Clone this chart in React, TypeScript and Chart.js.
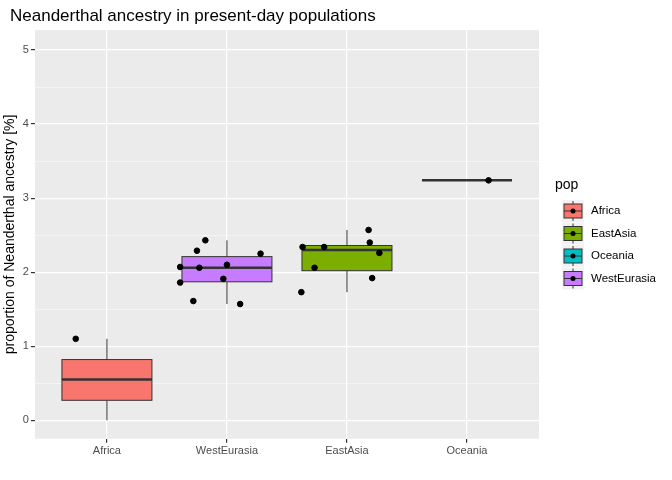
import React, { useEffect, useRef } from "react";
import { Chart, registerables } from "chart.js";
Chart.register(...registerables);

const categories = ["Africa", "WestEurasia", "EastAsia", "Oceania"];
const legendOrder = ["Africa", "EastAsia", "Oceania", "WestEurasia"];
const colors: Record<string, string> = { Africa: "#F8766D", EastAsia: "#7CAE00", Oceania: "#00BFC4", WestEurasia: "#C77CFF" };
// [whiskerLow, q1, median, q3, whiskerHigh]
const boxStats = [
  [0.0, 0.27, 0.55, 0.82, 1.1],
  [1.57, 1.87, 2.06, 2.21, 2.43],
  [1.73, 2.02, 2.3, 2.36, 2.57],
  [3.24, 3.24, 3.24, 3.24, 3.24],
];
const pointCat = [0, 1, 1, 1, 1, 1, 1, 1, 1, 1, 1, 2, 2, 2, 2, 2, 2, 2, 2, 3];
const pointJitter = [-0.26, -0.39, -0.39, -0.28, -0.25, -0.18, -0.23, 0, -0.03, 0.11, 0.28, -0.37, -0.38, -0.27, -0.19, 0.18, 0.19, 0.21, 0.27, 0.18];
const pointValues = [1.1, 2.07, 1.86, 1.61, 2.29, 2.43, 2.06, 2.1, 1.91, 1.57, 2.25, 2.34, 1.73, 2.06, 2.34, 2.57, 2.4, 1.92, 2.26, 3.24];

export default function App() {
  const ref = useRef<HTMLCanvasElement>(null);
  useEffect(() => {
    document.body.style.margin = "0";
    const boxPlugin = {
      id: "box",
      beforeDatasetsDraw(chart: any) {
        const { ctx, scales } = chart;
        const xs = scales.x, ys = scales.y;
        boxStats.forEach((s, i) => {
          const cx = xs.getPixelForValue(i + 1);
          const hw = xs.getPixelForValue(i + 1.375) - cx;
          const [lo, q1, med, q3, hi] = s.map((v) => ys.getPixelForValue(v));
          ctx.save();
          ctx.strokeStyle = "#333333";
          ctx.lineWidth = 1;
          ctx.beginPath();
          ctx.moveTo(cx, lo); ctx.lineTo(cx, q1);
          ctx.moveTo(cx, q3); ctx.lineTo(cx, hi);
          ctx.stroke();
          ctx.fillStyle = colors[categories[i]];
          ctx.fillRect(cx - hw, q3, hw * 2, q1 - q3);
          ctx.strokeRect(cx - hw, q3, hw * 2, q1 - q3);
          ctx.lineWidth = 2.5;
          ctx.beginPath();
          ctx.moveTo(cx - hw, med); ctx.lineTo(cx + hw, med);
          ctx.stroke();
          ctx.restore();
        });
      },
      afterDraw(chart: any) {
        const { ctx } = chart;
        ctx.save();
        ctx.fillStyle = "#000";
        ctx.font = "17px 'Liberation Sans', Arial, sans-serif";
        ctx.textBaseline = "middle";
        ctx.fillText("Neanderthal ancestry in present-day populations", 10, 16);
        ctx.font = "14px 'Liberation Sans', Arial, sans-serif";
        ctx.fillText("pop", 555, 185);
        ctx.font = "11.5px 'Liberation Sans', Arial, sans-serif";
        legendOrder.forEach((n, k) => {
          const y = 211 + k * 22.5;
          ctx.fillStyle = "#F2F2F2";
          ctx.fillRect(562, y - 11, 22, 22);
          ctx.strokeStyle = "#333";
          ctx.lineWidth = 1;
          ctx.beginPath();
          ctx.moveTo(573, y - 10); ctx.lineTo(573, y + 10); ctx.stroke();
          ctx.fillStyle = colors[n];
          ctx.fillRect(564, y - 7, 18, 14);
          ctx.strokeRect(564, y - 7, 18, 14);
          ctx.beginPath(); ctx.moveTo(564, y); ctx.lineTo(582, y); ctx.stroke();
          ctx.fillStyle = "#000";
          ctx.beginPath(); ctx.arc(573, y, 2.5, 0, Math.PI * 2); ctx.fill();
          ctx.fillText(n, 591, y);
        });
        ctx.restore();
      },
      beforeDraw(chart: any) {
        const { ctx, chartArea: a } = chart;
        ctx.save();
        ctx.fillStyle = "#EBEBEB";
        ctx.fillRect(a.left, a.top, a.right - a.left, a.bottom - a.top);
        ctx.restore();
      },
    };
    const chart = new Chart(ref.current!, {
      type: "scatter",
      data: {
        datasets: [{
          data: pointValues.map((v, i) => ({ x: pointCat[i] + 1 + pointJitter[i], y: v })),
          backgroundColor: "#000", borderColor: "#000", pointRadius: 2.8,
        }],
      },
      options: {
        animation: false, responsive: false,
        layout: { padding: { top: 30, right: 133, left: 0, bottom: 20 } },
        plugins: { legend: { display: false }, tooltip: { enabled: false } },
        scales: {
          x: {
            type: "linear", min: 0.4, max: 4.6,
            afterBuildTicks: (s: any) => { s.ticks = [1, 2, 3, 4].map((v) => ({ value: v })); },
            ticks: { padding: 2, callback: (v: any) => categories[v - 1], color: "#4D4D4D", font: { size: 11, family: "'Liberation Sans', Arial" } },
            grid: { color: "#FFF", lineWidth: 1.2, drawTicks: true, tickColor: "#333", tickLength: 4 },
            border: { display: false },
          },
          y: {
            min: -0.25, max: 5.27,
            afterBuildTicks: (s: any) => { s.ticks = [0, 0.5, 1, 1.5, 2, 2.5, 3, 3.5, 4, 4.5, 5].map((v) => ({ value: v })); },
            ticks: { padding: 2, callback: (v: any) => (Number.isInteger(v) ? String(v) : ""), color: "#4D4D4D", font: { size: 11, family: "'Liberation Sans', Arial" } },
            grid: { color: "#FFF", lineWidth: (c: any) => (Number.isInteger(c.tick?.value) ? 1.2 : 0.5), tickColor: (c: any) => (Number.isInteger(c.tick?.value) ? "#333" : "rgba(0,0,0,0)"), tickLength: 4 },
            border: { display: false },
            title: { display: true, padding: { top: 2, bottom: 2 }, text: "proportion of Neanderthal ancestry [%]", color: "#000", font: { size: 14, family: "'Liberation Sans', Arial" } },
          },
        },
      },
      plugins: [boxPlugin],
    });
    return () => chart.destroy();
  }, []);
  return <canvas ref={ref} width={672} height={480} style={{ display: "block" }} />;
}
